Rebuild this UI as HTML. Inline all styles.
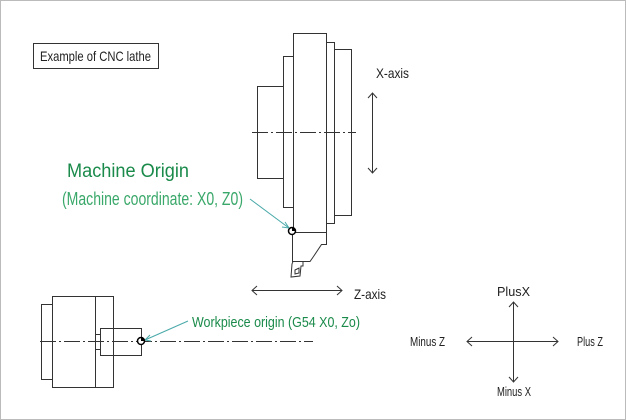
<!DOCTYPE html>
<html><head><meta charset="utf-8"><style>html,body{margin:0;padding:0;background:#fff}svg{display:block}</style></head><body>
<svg width="626" height="420" viewBox="0 0 626 420" xmlns="http://www.w3.org/2000/svg" font-family="'Liberation Sans', sans-serif">
<rect x="0.5" y="0.5" width="625" height="419" fill="#fff" stroke="#bbb"/>
<g fill="none" stroke="#333" stroke-width="1">
<rect x="33.5" y="43.5" width="125" height="25"/>
<rect x="293.5" y="33.5" width="33" height="199"/>
<rect x="283.5" y="56.5" width="10" height="151"/>
<rect x="257.5" y="86.5" width="26" height="92"/>
<rect x="326.5" y="42.5" width="8" height="181"/>
<rect x="334.5" y="49.5" width="17" height="166"/>
<line x1="252" y1="132.5" x2="356" y2="132.5" stroke-dasharray="16,3,2,3"/>
<path d="M292.5 232 V261.5 H304 M326.5 232.5 V244.5 H321.5 L313.5 256.5 L310 261.5 H304"/>
<path d="M293 261.5 H303 V266 L301 266 L300 276 L291 277 L292 264 Z"/>
<path d="M295 270 L299 268 L299 273 L295 274 Z"/>
<line x1="372.5" y1="93" x2="372.5" y2="173"/>
<path d="M368 98 L372.5 93 L377 98 M368 168 L372.5 173 L377 168"/>
<line x1="252" y1="290.5" x2="342" y2="290.5"/>
<path d="M257 286 L252 290.5 L257 295 M337 286 L342 290.5 L337 295"/>
<rect x="41.5" y="304.5" width="11" height="75"/>
<rect x="52.5" y="296.5" width="61" height="91"/>
<line x1="95.5" y1="296.5" x2="95.5" y2="387.5"/>
<rect x="95.5" y="334.5" width="5" height="15"/>
<rect x="100.5" y="328.5" width="41" height="27"/>
<line x1="40" y1="341.5" x2="313" y2="341.5" stroke-dasharray="16,3,2,3"/>
<line x1="513.5" y1="302" x2="513.5" y2="382"/>
<path d="M509 307 L513.5 302 L518 307 M509 377 L513.5 382 L518 377"/>
<line x1="467" y1="341.5" x2="558" y2="341.5"/>
<path d="M472 337 L467 341.5 L472 346 M553 337 L558 341.5 L553 346"/>
</g>
<g stroke="#4aa9a9" stroke-width="1" fill="none">
<line x1="250" y1="199" x2="289" y2="228"/>
<path d="M282 227 L289 228 L285 222"/>
<line x1="188" y1="321" x2="145" y2="340"/>
<path d="M150 335 L145 340 L151 341"/>
</g>
<circle cx="292" cy="231" r="3.5" fill="#fff" stroke="#000" stroke-width="1.5"/>
<path d="M292 231 L292 227.5 A3.5 3.5 0 0 1 295.5 231 Z" fill="#000"/>
<circle cx="141" cy="341" r="3.5" fill="#fff" stroke="#000" stroke-width="1.5"/>
<path d="M141 341 L141 337.5 A3.5 3.5 0 0 1 144.5 341 Z" fill="#000"/>
<g fill="#222" font-size="14">
<text x="40" y="61" textLength="111" lengthAdjust="spacingAndGlyphs">Example of CNC lathe</text>
<text x="376" y="78" textLength="33" lengthAdjust="spacingAndGlyphs">X-axis</text>
<text x="354" y="299" textLength="32" lengthAdjust="spacingAndGlyphs">Z-axis</text>
<text x="497" y="296" font-size="13" textLength="33" lengthAdjust="spacingAndGlyphs">PlusX</text>
<text x="410" y="346" font-size="13" textLength="35" lengthAdjust="spacingAndGlyphs">Minus Z</text>
<text x="577" y="346" font-size="13" textLength="26" lengthAdjust="spacingAndGlyphs">Plus Z</text>
<text x="497" y="396" font-size="13" textLength="34" lengthAdjust="spacingAndGlyphs">Minus X</text>
</g>
<g fill="#1a8a4a">
<text x="67" y="177" font-size="19" textLength="122" lengthAdjust="spacingAndGlyphs">Machine Origin</text>
<text x="62" y="205" font-size="18" fill="#3aa86a" textLength="181" lengthAdjust="spacingAndGlyphs">(Machine coordinate: X0, Z0)</text>
<text x="192" y="327" font-size="15" textLength="168" lengthAdjust="spacingAndGlyphs">Workpiece origin (G54 X0, Zo)</text>
</g>
</svg>
</body></html>
